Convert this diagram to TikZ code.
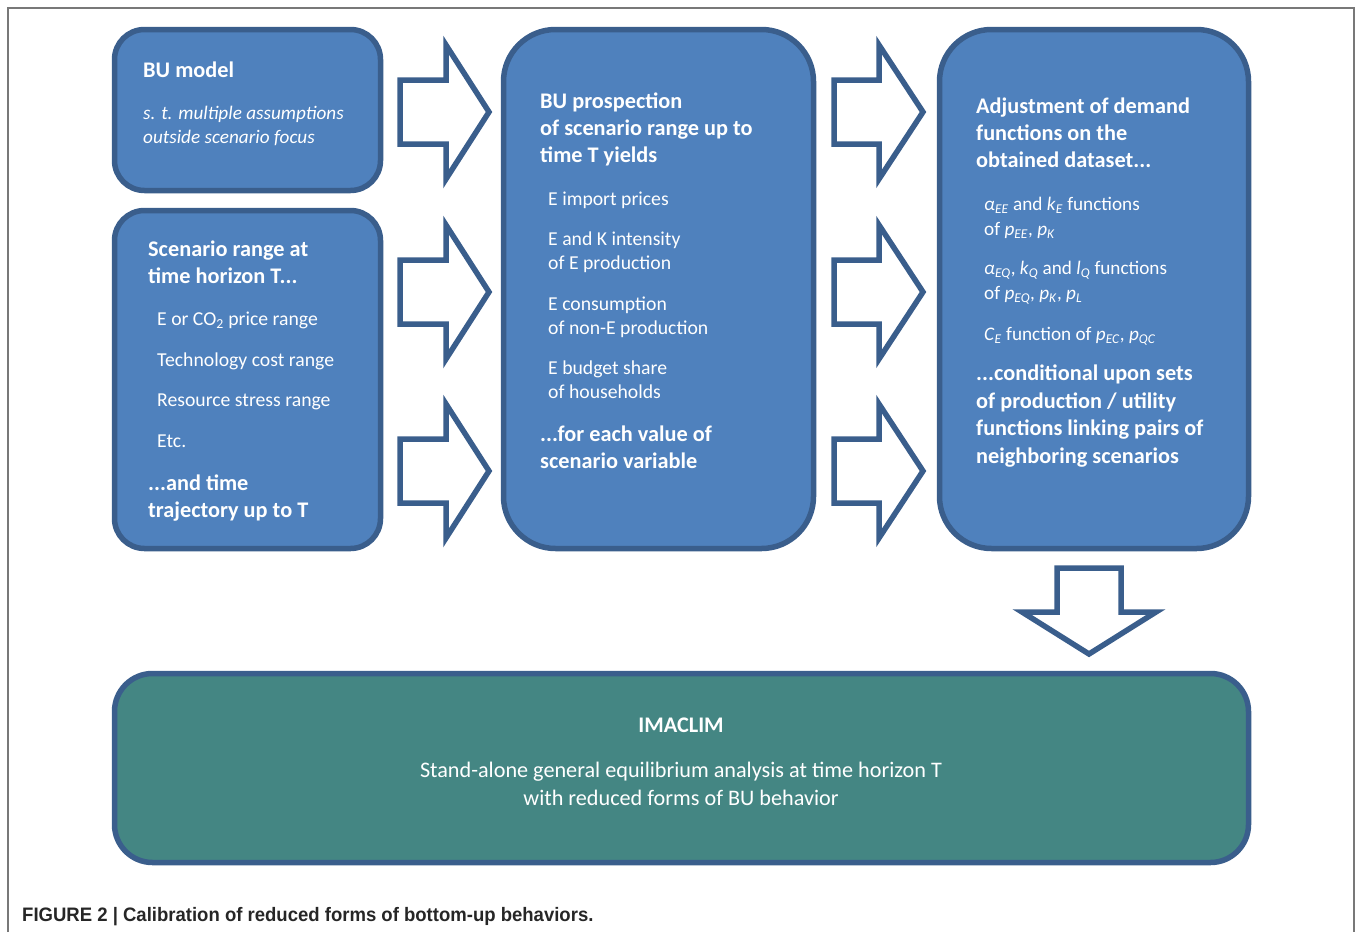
\documentclass[tikz,border=0pt]{standalone}
\usepackage{fontspec}
\setmainfont{Carlito}
\newfontfamily\capfont[FakeStretch=0.95]{Liberation Sans}
\definecolor{boxblue}{RGB}{79,129,189}
\definecolor{edgeblue}{RGB}{58,94,140}
\definecolor{imateal}{RGB}{68,134,131}
\definecolor{framegray}{RGB}{120,120,120}
\newcommand{\sbi}[1]{\textsubscript{\textit{#1}}}
\tikzset{
  box/.style={draw=edgeblue,line width=5.5pt,fill=boxblue,inner sep=0pt},
  blockarrow/.style={draw=edgeblue,line width=5.5pt,fill=white,line join=miter},
  head/.style={font=\fontsize{22.3}{27}\selectfont\bfseries,text=white,align=left,anchor=base west,inner sep=0pt},
  item/.style={font=\fontsize{19.7}{24}\selectfont,text=white,align=left,anchor=base west,inner sep=0pt}
}
\begin{document}
\begin{tikzpicture}[x=1pt,y=-1pt]
    \useasboundingbox (0,0) rectangle (1357,932);
    \draw[framegray,line width=1.5pt] (8,932) -- (8,8) -- (1354,8) -- (1354,932);

    % boxes
    \node[box,rounded corners=30pt,minimum width=266pt,minimum height=161pt] (bumodel) at (247.5,110) {};
    \node[box,rounded corners=30pt,minimum width=266pt,minimum height=338pt] (scenrange) at (247.5,379.5) {};
    \node[box,rounded corners=52pt,minimum width=310pt,minimum height=519pt] (prospect) at (658.5,289) {};
    \node[box,rounded corners=52pt,minimum width=309pt,minimum height=519pt] (adjust) at (1094,289) {};
    \node[box,fill=imateal,rounded corners=38pt,minimum width=1134pt,minimum height=189pt] (imaclim) at (681.5,768) {};

    % block arrows
    \foreach \ya in {112,292,471} {
      \draw[blockarrow] (400,\ya-32) -- (446,\ya-32) -- (446,\ya-67) -- (489,\ya) -- (446,\ya+67) -- (446,\ya+32) -- (400,\ya+32) -- cycle;
      \draw[blockarrow] (834,\ya-32) -- (879,\ya-32) -- (879,\ya-67) -- (923,\ya) -- (879,\ya+67) -- (879,\ya+32) -- (834,\ya+32) -- cycle;
    }
    \draw[blockarrow] (1057,568) -- (1121,568) -- (1121,612) -- (1156,612) -- (1089,654) -- (1022,612) -- (1057,612) -- cycle;

    % BU model (multi-line texts sit on their last baseline)
    \node[head] (butitle) at (143,77) {BU model};
    \node[item,font=\fontsize{19.2}{24}\selectfont\itshape] (buassump) at (143,143) {s. t. multiple assumptions\\outside scenario focus};

    % scenario range
    \node[head] (sctitle) at (148,283) {Scenario range at\\time horizon T...};
    \node[item] (scitems) at (157,447) {E or CO\textsubscript{2} price range\\[16.5pt]Technology cost range\\[16.5pt]Resource stress range\\[16.5pt]Etc.};
    \node[head] (scfoot) at (148,517) {...and time\\trajectory up to T};

    % BU prospection
    \node[head] (prtitle) at (540,162) {BU prospection\\of scenario range up to\\time T yields};
    \node[item] (pritems) at (548,398) {E import prices\\[16pt]E and K intensity\\of E production\\[17pt]E consumption\\of non-E production\\[16pt]E budget share\\of households};
    \node[head] (prfoot) at (540,468) {...for each value of\\scenario variable};

    % adjustment
    \node[head] (adtitle) at (976,167) {Adjustment of demand\\functions on the\\obtained dataset...};
    \node[item,font=\fontsize{19.2}{25}\selectfont] (aditems) at (984,340) {\textit{α}\sbi{EE} and \textit{k}\sbi{E} functions\\of \textit{p}\sbi{EE}, \textit{p}\sbi{K}\\[14pt]\textit{α}\sbi{EQ}, \textit{k}\sbi{Q} and \textit{l}\sbi{Q} functions\\of \textit{p}\sbi{EQ}, \textit{p}\sbi{K}, \textit{p}\sbi{L}\\[16pt]\textit{C}\sbi{E} function of \textit{p}\sbi{EC}, \textit{p}\sbi{QC}};
    \node[head,font=\fontsize{22.3}{27.5}\selectfont\bfseries] (adfoot) at (976,463) {...conditional upon sets\\of production / utility\\functions linking pairs of\\neighboring scenarios};

    % IMACLIM
    \node[head,anchor=base,align=center] (imtitle) at (681,732) {IMACLIM};
    \node[item,anchor=base,align=center,font=\fontsize{22.2}{28}\selectfont] (imtext) at (681,805) {Stand-alone general equilibrium analysis at time horizon T\\with reduced forms of BU behavior};

    % caption
    \node[anchor=base west,inner sep=0pt,font=\capfont\bfseries\fontsize{19.5}{23}\selectfont,text=black!85] (caption) at (22,921) {FIGURE 2 | Calibration of reduced forms of bottom-up behaviors.};
  \end{tikzpicture}
\end{document}
